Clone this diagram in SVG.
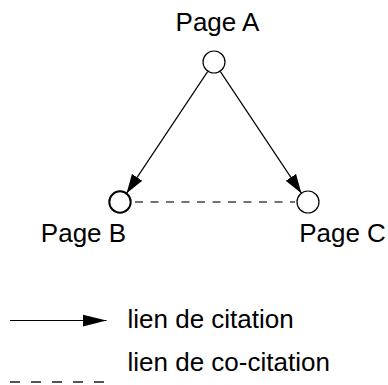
<svg xmlns="http://www.w3.org/2000/svg" width="388" height="385" viewBox="0 0 388 385">
<defs>
<style>
text{font-family:"Liberation Sans",Arial,sans-serif;font-size:26px;fill:#000}
.lbl{text-anchor:middle}
.node{fill:#fff;stroke:#000;stroke-width:1.2}
.cite{stroke:#000;stroke-width:1.2;fill:none}
.cocite{stroke:#444;stroke-width:1.5;fill:none;stroke-dasharray:8,7.5}
</style>
<marker id="ah" markerUnits="userSpaceOnUse" markerWidth="22" markerHeight="14" refX="19" refY="7" orient="auto">
<path d="M0,0.8 L19,7 L0,13.2 Z" fill="#000"/>
</marker>
<marker id="ahL" markerUnits="userSpaceOnUse" markerWidth="26" markerHeight="14" refX="24" refY="7" orient="auto">
<path d="M0,1 L24,7 L0,13 Z" fill="#000"/>
</marker>
</defs>
<g id="connectors">
<line class="cite" x1="207.6" y1="71.6" x2="126.6" y2="193.2" marker-end="url(#ah)"/>
<line class="cite" x1="220.4" y1="71.6" x2="301.4" y2="193.2" marker-end="url(#ah)"/>
<line class="cocite" x1="135" y1="202" x2="295" y2="202"/>
</g>
<g id="pageA">
<circle class="node" cx="214" cy="62" r="11"/>
<text class="lbl" x="217.5" y="31">Page A</text>
</g>
<g id="pageB">
<circle class="node" cx="120" cy="202" r="10.7" style="stroke-width:2"/>
<text class="lbl" x="83.5" y="242">Page B</text>
</g>
<g id="pageC">
<circle class="node" cx="308" cy="202" r="11"/>
<text class="lbl" x="342.5" y="242">Page C</text>
</g>
<g id="legend">
<line class="cite" x1="10" y1="320.5" x2="106.5" y2="320.5" marker-end="url(#ahL)"/>
<text x="127.5" y="328">lien de citation</text>
<line x1="10" y1="382" x2="104" y2="382" stroke="#555" stroke-width="2" stroke-dasharray="10,11"/>
<text x="127.5" y="371">lien de co-citation</text>
</g>
</svg>
